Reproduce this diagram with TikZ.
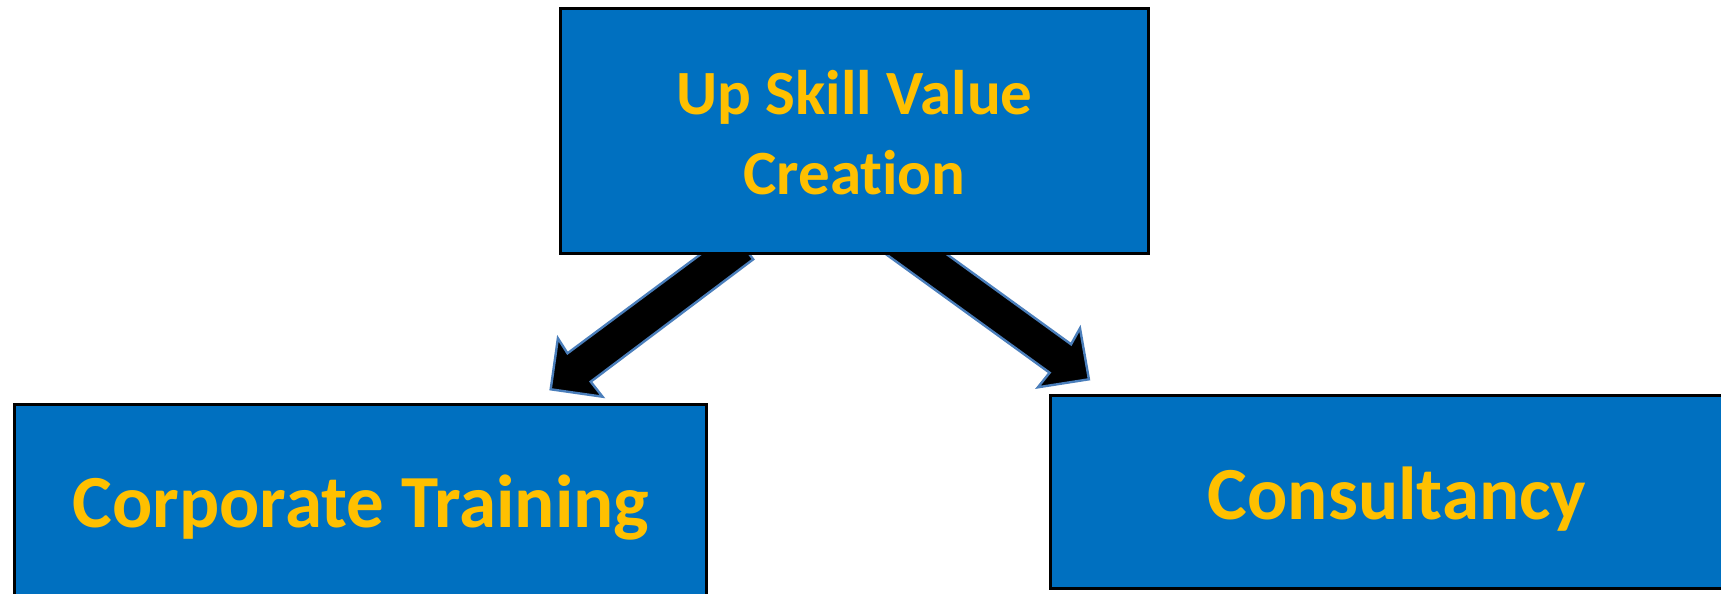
\documentclass[tikz,border=0pt]{standalone}
\usepackage{fontspec}
\setmainfont{Carlito}[Ligatures={NoCommon,NoContextual}]
\definecolor{boxblue}{HTML}{0070C0}
\definecolor{txtgold}{HTML}{FFC000}
\definecolor{arrowedge}{HTML}{4A7EBB}
\begin{document}
\begin{tikzpicture}[x=0.5pt,y=-0.5pt,
  boxnode/.style={draw=black,line width=1.5pt,fill=boxblue,rectangle,inner sep=0pt},
  labeltext/.style={text=txtgold,inner sep=0pt,anchor=base,font=\fontsize{37.5}{45}\selectfont\bfseries},
  blockarrow/.style={fill=black,draw=arrowedge,line width=1.2pt,line join=miter}]
\useasboundingbox (0,0) rectangle (1721,594);
\clip (0,0) rectangle (1721,594);
% block arrows (tails hidden under the top box)
\coordinate (la1) at (731.9,231);
\coordinate (la2) at (753.2,259.3);
\coordinate (la3) at (590.7,381.7);
\coordinate (la4) at (602.5,396.7);
\coordinate (la5) at (550.7,389.3);
\coordinate (la6) at (557.9,338.3);
\coordinate (la7) at (567.5,353.3);
\draw[blockarrow] (la1) -- (la2) -- (la3) -- (la4) -- (la5) -- (la6) -- (la7) -- cycle;
\coordinate (ra1) at (859.5,235);
\coordinate (ra2) at (920.3,235);
\coordinate (ra3) at (1071.1,344.3);
\coordinate (ra4) at (1080,328.3);
\coordinate (ra5) at (1088.9,379.3);
\coordinate (ra6) at (1037.9,387.3);
\coordinate (ra7) at (1049.6,372.7);
\draw[blockarrow] (ra1) -- (ra2) -- (ra3) -- (ra4) -- (ra5) -- (ra6) -- (ra7) -- cycle;
% boxes
\node[boxnode,minimum width=294pt,minimum height=122.5pt] (top) at (854.5,131) {};
\node[text=txtgold,inner sep=0pt,font=\fontsize{31.5}{40}\selectfont\bfseries,align=center]
  (toptext) at (854.5,133) {Up Skill Value\\Creation};
\node[boxnode,minimum width=346pt,minimum height=200pt] (left) at (360.5,604.5) {};
\node[boxnode,minimum width=374.75pt,minimum height=96.5pt] (right) at (1425.25,492) {};
\node[labeltext] (lefttext) at (361,527.5) {Corporate Training};
\node[labeltext] (righttext) at (1397,519.3) {Consultancy};
\end{tikzpicture}
\end{document}
